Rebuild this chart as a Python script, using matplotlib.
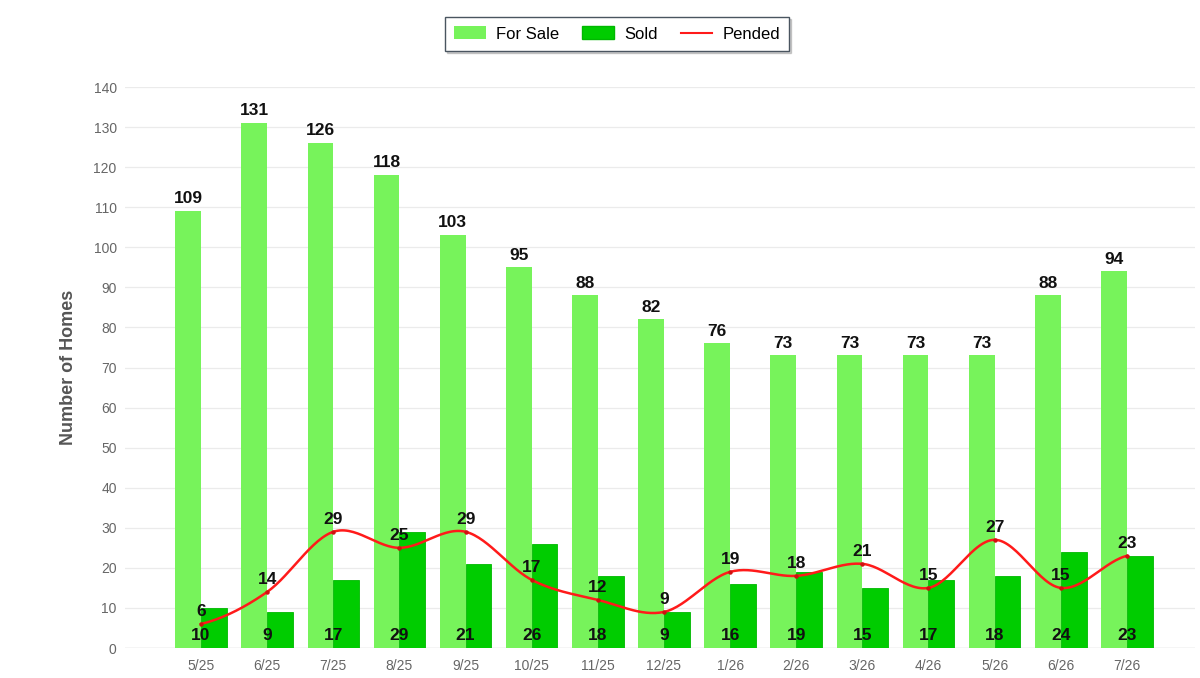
import numpy as np
import matplotlib
matplotlib.use("Agg")
import matplotlib.pyplot as plt
from matplotlib.patches import Patch
from matplotlib.lines import Line2D

months = ["5/25", "6/25", "7/25", "8/25", "9/25", "10/25", "11/25", "12/25",
          "1/26", "2/26", "3/26", "4/26", "5/26", "6/26", "7/26"]
for_sale = [109, 131, 126, 118, 103, 95, 88, 82, 76, 73, 73, 73, 73, 88, 94]
sold = [10, 9, 17, 29, 21, 26, 18, 9, 16, 19, 15, 17, 18, 24, 23]
pended = [6, 14, 29, 25, 29, 17, 12, 9, 19, 18, 21, 15, 27, 15, 23]
yticks = list(range(0, 141, 10))

C_SALE = "#77f35b"
C_SOLD = "#00cc00"
C_PEND = "#ff1a1a"

plt.rcParams['font.family'] = ['Liberation Sans', 'DejaVu Sans']

fig = plt.figure(figsize=(12, 6.78), dpi=100)
ax = fig.add_axes([125/1200, 1-648/678, (1195-125)/1200, (648-87)/678])

x = np.arange(len(months))
w = 0.39
ax.bar(x - w/2, for_sale, width=w, color=C_SALE, zorder=2)
ax.bar(x + w/2, sold, width=w, color=C_SOLD, edgecolor="#00b800", linewidth=0.6, zorder=2)


def catmull(xs, ys, n=30):
    xs = np.asarray(xs, float); ys = np.asarray(ys, float)
    px = np.concatenate([[2*xs[0]-xs[1]], xs, [2*xs[-1]-xs[-2]]])
    py = np.concatenate([[ys[0]], ys, [ys[-1]]])
    ox, oy = [], []
    for i in range(1, len(px)-2):
        t = np.linspace(0, 1, n, endpoint=False)
        p0, p1, p2, p3 = [np.array([px[j], py[j]]) for j in (i-1, i, i+1, i+2)]
        t2, t3 = t*t, t*t*t
        pts = 0.5*((2*p1)[:, None] + (-p0+p2)[:, None]*t + (2*p0-5*p1+4*p2-p3)[:, None]*t2
                   + (-p0+3*p1-3*p2+p3)[:, None]*t3)
        ox.extend(pts[0]); oy.extend(pts[1])
    ox.append(xs[-1]); oy.append(ys[-1])
    return np.array(ox), np.array(oy)

sx, sy = catmull(x, pended)
ax.plot(sx, sy, color=C_PEND, lw=1.8, zorder=3)
ax.plot(x, pended, 'o', color="#d01010", ms=2.2, zorder=3)

lab = dict(fontsize=12.5, fontweight='bold', color='#111111', ha='center', zorder=5)
for i in range(len(months)):
    ax.text(x[i] - w/2, for_sale[i] + 1.2, str(for_sale[i]), va='bottom', **lab)
    ax.text(x[i], 3, str(sold[i]), va='center', **lab)
    ax.text(x[i], pended[i] + 1.3, str(pended[i]), va='bottom', **lab)

ax.set_xlim(-1.15, 15.03)
ax.set_ylim(0, 140)
ax.set_yticks(yticks)
ax.set_xticks(x)
ax.set_xticklabels(months)
ax.tick_params(axis='both', length=0, colors='#666666', labelsize=10)
ax.tick_params(axis='y', pad=6)
ax.tick_params(axis='x', pad=8)
for s in ax.spines.values():
    s.set_visible(False)
ax.grid(axis='y', color='#ebebeb', lw=0.9, zorder=0)
ax.axhline(0, color='#dddddd', lw=1, zorder=1)
ax.set_axisbelow(True)
ax.set_ylabel("Number of Homes", fontsize=13, fontweight='bold', color='#555555', labelpad=12)

handles = [Patch(facecolor=C_SALE, edgecolor='none'),
           Patch(facecolor=C_SOLD, edgecolor='#00b800'),
           Line2D([0], [0], color=C_PEND, lw=1.5)]
leg = fig.legend(handles, ["For Sale", "Sold", "Pended"], loc='center',
                 bbox_to_anchor=(617/1200, 1-34/678), ncol=3, fontsize=12,
                 frameon=True, fancybox=False,
                 shadow={'ox': 1.5, 'oy': -1.5, 'alpha': 0.25},
                 edgecolor='#4a5560',
                 handlelength=1.9, handleheight=0.8, columnspacing=1.4,
                 handletextpad=0.6, borderpad=0.55)
leg.get_frame().set_linewidth(1.0)

fig.savefig("out.png", dpi=100)
